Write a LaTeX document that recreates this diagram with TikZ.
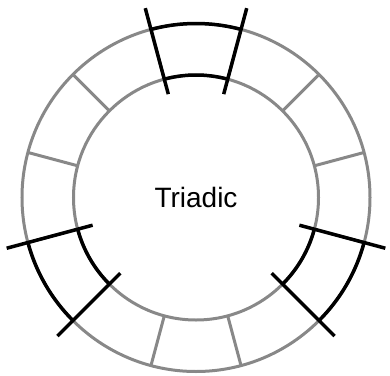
\documentclass[tikz,border=0pt]{standalone}
\usepackage{fontspec}
\setmainfont{Liberation Sans}
\definecolor{ringgray}{HTML}{888888}
\begin{document}
\begin{tikzpicture}[x=1pt, y=1pt,
    ring/.style={line width=3pt, draw=ringgray},
    pick/.style={line width=3.5pt, draw=black}]
    \useasboundingbox (-196,-177.5) rectangle (194,197.5);
    % Colour ring with twelve cells
    \draw[ring] (0,0) circle (174);
    \draw[ring] (0,0) circle (122.5);
    \foreach \a in {15,45,...,345}
        \draw[ring] (\a:122.5) -- (\a:174);

    % Three cells picked a third of the wheel apart
    \foreach \a in {90,210,330} {
        \draw[pick] ({\a-15}:122.5) arc ({\a-15}:{\a+15}:122.5);
        \draw[pick] ({\a-15}:174) arc ({\a-15}:{\a+15}:174);
        \draw[pick] ({\a-15}:107) -- ({\a-15}:196);
        \draw[pick] ({\a+15}:107) -- ({\a+15}:196);
    }
    \node (label) at (0,0) {\fontsize{28}{34}\selectfont Triadic};
\end{tikzpicture}
\end{document}
